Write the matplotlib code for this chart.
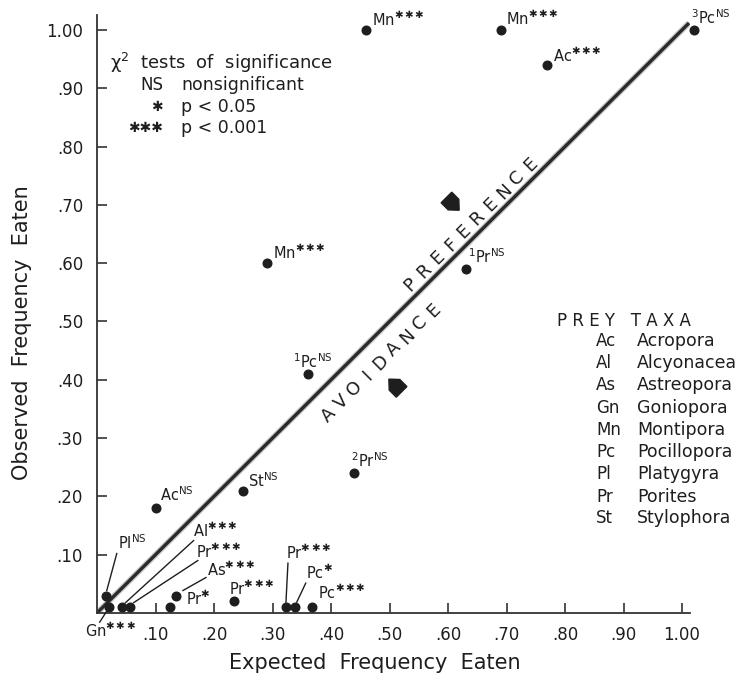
import numpy as np
import matplotlib
matplotlib.use("Agg")
import matplotlib.pyplot as plt
from matplotlib.patches import Polygon

plt.rcParams['font.family'] = ['DejaVu Sans']
plt.rcParams['mathtext.default'] = 'regular'

INK = '#1e1e1e'
STAR = '\u2731'

# Prey records: taxon code, sample number, chi-square result, expected vs observed frequency
taxon = ["Mn", "Mn", "Ac", "Pc", "Mn", "Pr", "Pc", "Pr", "St", "Ac",
         "Pl", "Gn", "Al", "Pr", "As", "Pr", "Pr", "Pr", "Pc", "Pc"]
sample = ["", "", "", "3", "", "1", "1", "2", "", "",
          "", "", "", "", "", "", "", "", "", ""]
significance = ["***", "***", "***", "NS", "***", "NS", "NS", "NS", "NS", "NS",
                "NS", "***", "***", "***", "***", "*", "***", "***", "*", "***"]
expected = [0.46, 0.69, 0.77, 1.02, 0.29, 0.63, 0.36, 0.44, 0.25, 0.10,
            0.015, 0.02, 0.042, 0.056, 0.135, 0.124, 0.235, 0.323, 0.338, 0.368]
observed = [1.00, 1.00, 0.94, 1.00, 0.60, 0.59, 0.41, 0.24, 0.21, 0.18,
            0.03, 0.01, 0.011, 0.011, 0.03, 0.01, 0.02, 0.01, 0.01, 0.01]

tick_values = [0.10, 0.20, 0.30, 0.40, 0.50, 0.60, 0.70, 0.80, 0.90, 1.00]
tick_labels = [".10", ".20", ".30", ".40", ".50", ".60", ".70", ".80", ".90", "1.00"]

sig_symbols = ["NS", "*", "***"]
sig_meaning = ["nonsignificant", "p < 0.05", "p < 0.001"]

prey_codes = ["Ac", "Al", "As", "Gn", "Mn", "Pc", "Pl", "Pr", "St"]
prey_names = ["Acropora", "Alcyonacea", "Astreopora", "Goniopora", "Montipora",
              "Pocillopora", "Platygyra", "Porites", "Stylophora"]

# label placement: text offset from its dot (pixels), optional leader line (start, end offsets)
label_offset = [(6, 5), (5, 6), (6, 4), (-3, 6), (6, 5), (2, 6), (-15, 6), (-3, 6), (5, 4), (4, 7),
                (12, 47), (-24, -29), (71, 71), (66, 50), (31, 21), (16, 3), (-5, 7), (0, 49), (11, 29), (6, 9)]
leaders = {10: ((11, 42), (1, 5)),
           11: ((-9, -15), (-2, -4)),
           12: ((72, 66), (4, 4)),
           13: ((68, 46), (4, 4)),
           14: ((30, 18), (7, 5)),
           17: ((2, 44), (0, 5)),
           18: ((11, 24), (2, 5))}


def starred(s, math=False):
    if "*" not in s:
        return s
    sep = r"\," if math else ""
    return sep.join(STAR for _ in s)


W, H = 744, 681
fig = plt.figure(figsize=(W / 100, H / 100), dpi=100)
fig.patch.set_facecolor('white')
ax = fig.add_axes([97 / W, 68 / H, 593 / W, 598 / H])
ax.set_xlim(0, 593 / 585)
ax.set_ylim(0, 598 / 583)

for side in ("top", "right"):
    ax.spines[side].set_visible(False)
for side in ("left", "bottom"):
    ax.spines[side].set_color('#333333')
    ax.spines[side].set_linewidth(1.3)

ax.set_xticks(tick_values)
ax.set_xticklabels(tick_labels)
ax.set_yticks(tick_values)
ax.set_yticklabels(tick_labels)
ax.tick_params(axis='both', direction='in', length=7, width=1.2, color='#333333',
               labelsize=12, labelcolor=INK)
ax.tick_params(axis='x', pad=9)
ax.tick_params(axis='y', pad=10)

# line of equal expected and observed frequency
ax.plot([0, 1.012], [0, 1.012], color='#8a8a8a', lw=4.2, alpha=0.5, solid_capstyle='butt', zorder=1)
ax.plot([0, 1.012], [0, 1.012], color='#2a2a2a', lw=2.4, solid_capstyle='butt', zorder=2)

ax.plot(expected, observed, 'o', ms=6.2, color=INK, clip_on=False, zorder=4)

to_disp = ax.transData.transform
to_data = ax.transData.inverted().transform

for i, (x, y) in enumerate(zip(expected, observed)):
    txt = ((f"$^{{{sample[i]}}}$" if sample[i] else "") + taxon[i]
           + f"$^{{{starred(significance[i], math=True)}}}$")
    ax.annotate(txt, xy=(x, y), xytext=label_offset[i], textcoords='offset pixels',
                ha='left', va='baseline', fontsize=10.5, color=INK, annotation_clip=False)
    if i in leaders:
        p = to_disp((x, y))
        a = to_data(p + np.array(leaders[i][0]))
        b = to_data(p + np.array(leaders[i][1]))
        ax.plot([a[0], b[0]], [a[1], b[1]], color=INK, lw=1.0, clip_on=False, zorder=3)


# letter-spaced region captions along the diagonal
def along_line(text, center, pitch):
    n = len(text)
    u = np.array([np.cos(np.pi / 4), np.sin(np.pi / 4)])
    for k, ch in enumerate(text):
        off = (k - (n - 1) / 2) * pitch * u
        ax.annotate(ch, xy=center, xytext=(off[0], off[1]), textcoords='offset pixels',
                    rotation=45, rotation_mode='anchor', ha='center', va='center',
                    fontsize=13, color=INK)


along_line("PREFERENCE", (0.639, 0.666), 18.8)
along_line("AVOIDANCE", (0.4855, 0.4297), 18.5)


# direction markers on either side of the diagonal
def marker(center, angle_deg):
    d = np.array([np.cos(np.radians(angle_deg)), np.sin(np.radians(angle_deg))])
    q = np.array([-d[1], d[0]])
    pts = [(-8, -7.5), (2, -7.5), (10, 0), (2, 7.5), (-8, 7.5)]
    c = to_disp(center)
    verts = [to_data(c + a * d + b * q) for a, b in pts]
    ax.add_patch(Polygon(verts, closed=True, color=INK, zorder=3))


marker((0.607, 0.703), -45)
marker((0.511, 0.389), 135)

# significance key
ax.text(0.022, 0.943, "\u03c7$^{2}$  tests  of  significance", fontsize=13, color=INK,
        ha='left', va='center')
key_y = [0.906, 0.868, 0.832]
for sym, mean, yk in zip(sig_symbols, sig_meaning, key_y):
    ax.text(0.113, yk, starred(sym), fontsize=12 if sym == "NS" else 10, color=INK,
            ha='right', va='center')
    ax.text(0.144, yk, mean, fontsize=12.5, color=INK, ha='left', va='center')

# prey taxa key
ax.text(0.786, 0.501, "P R E Y   T A X A", fontsize=12, color=INK, ha='left', va='center')
row_y = [0.466, 0.429, 0.391, 0.352, 0.314, 0.276, 0.238, 0.199, 0.163]
for code, name, yk in zip(prey_codes, prey_names, row_y):
    ax.text(0.853, yk, code, fontsize=12, color=INK, ha='left', va='center')
    ax.text(0.923, yk, name, fontsize=12.5, color=INK, ha='left', va='center')

fig.text(375 / W, 1 - 663 / H, "Expected  Frequency  Eaten", fontsize=15, color=INK,
         ha='center', va='center')
fig.text(22 / W, 1 - 333 / H, "Observed  Frequency  Eaten", fontsize=15, color=INK,
         ha='center', va='center', rotation=90)

fig.savefig("out.png", dpi=100, facecolor='white')
